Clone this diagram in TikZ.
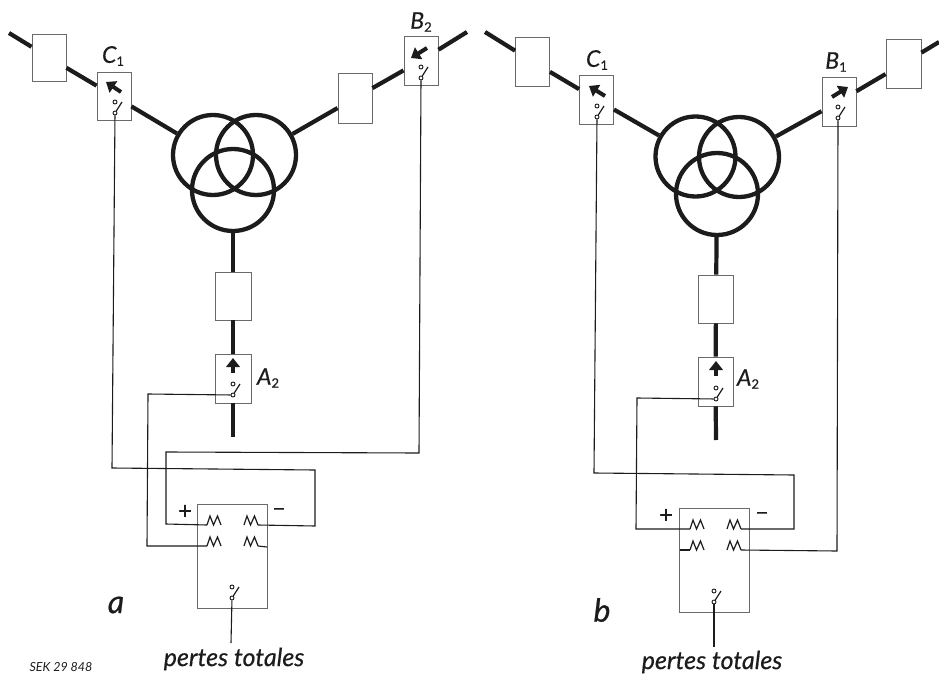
\documentclass[tikz,border=0pt]{standalone}
\usepackage{fontspec}
\setmainfont{Lato}
\usetikzlibrary{arrows.meta}
\definecolor{ink}{HTML}{1C1C1C}
\definecolor{edge}{HTML}{6A6A6A}
\tikzset{
  x=1pt,y=-1pt,
  bx/.style={draw=edge,line width=0.9pt,fill=white,inner sep=0pt,minimum width=#1},
  bx/.default=34pt,
  ring/.style={circle,draw=ink,line width=4.3pt,inner sep=0pt,minimum size=80pt},
  feed/.style={draw=ink,line width=4.2pt},
  wire/.style={draw=ink,line width=1.1pt},
  flowar/.style={draw=ink,line width=4pt,-{Triangle[length=9pt,width=13.5pt]}},
  contact/.style={circle,draw=ink,line width=0.9pt,fill=white,inner sep=0pt,minimum size=4pt},
  blade/.style={draw=ink,line width=1.2pt},
  lab/.style={font=\itshape\addfontfeature{FakeBold=0.4}\fontsize{23}{23}\selectfont,text=ink,inner sep=0pt},
  captext/.style={font=\itshape\addfontfeature{FakeBold=0.5}\fontsize{25}{25}\selectfont,text=ink,inner sep=0pt},
  panelmark/.style={font=\itshape\addfontfeature{FakeBold=0.7}\fontsize{32}{32}\selectfont,text=ink,inner sep=0pt},
  refmark/.style={font=\itshape\fontsize{12.5}{12.5}\selectfont,text=ink,inner sep=0pt},
  sgn/.style={font=\addfontfeature{FakeBold=0.3}\fontsize{24}{24}\selectfont,text=ink,inner sep=0pt}
}
\newcommand{\swtch}[3]{%
  \node[contact] (#1) at (#2,#3) {};
  \node[contact] (#1u) at (#2,#3-11) {};
  \coordinate (#1t) at (#2+7,#3-11);
  \draw[blade] (#1) -- (#1t);
}
\newcommand{\coilsym}[3]{%
  \coordinate (#1l) at (#2,#3);
  \coordinate (#1r) at (#2+14,#3);
  \draw[blade,line join=miter] (#1l) -- (#2+3,#3-9) -- (#2+6.5,#3) -- (#2+10.5,#3-9) -- (#1r);
}
\newcommand{\flowsym}[5]{%
  \coordinate (#1s) at (#2,#3);
  \coordinate (#1e) at (#4,#5);
  \draw[flowar] (#1s) -- (#1e);
}
\newcommand{\lbl}[2]{#1{\upshape\raisebox{-3pt}{\fontsize{13}{13}\selectfont #2}}}
\begin{document}
\begin{tikzpicture}
\useasboundingbox (0,0) rectangle (939,674);
% ---------- panel a
\node[bx,minimum height=47pt] (aA) at (49,57.5) {};
\node[bx,minimum height=48pt] (aC) at (114,96) {};
\node[bx,minimum height=49pt] (aB) at (421,60.5) {};
\node[bx,minimum height=50pt] (aD) at (355,98) {};
\node[bx=36pt,minimum height=48pt] (aM) at (233,296) {};
\node[bx=36pt,minimum height=49pt] (aQ) at (233,378.5) {};
\node[bx=70pt,minimum height=104pt] (aW) at (232,556) {};
\node[ring] (aL) at (213,155) {};
\node[ring] (aR) at (256,155) {};
\node[ring,minimum size=82pt] (aU) at (233,190) {};
\coordinate (aE1) at (9,33);
\coordinate (aE2) at (467,32);
\coordinate (aE3) at (233,437);
\draw[feed] (aE1) -- (aA);
\draw[feed] (aA) -- (aC);
\draw[feed] (aC) -- (aL);
\draw[feed] (aE2) -- (aB);
\draw[feed] (aB) -- (aD);
\draw[feed] (aD) -- (aR);
\draw[feed] (aU) -- (aM);
\draw[feed] (aM) -- (aQ);
\draw[feed] (aQ) -- (aE3);
\flowsym{aFc}{121}{92}{106}{82}
\flowsym{aFb}{427}{48}{411}{58}
\flowsym{aFq}{233}{373}{233}{358}
\swtch{aSc}{115}{113}
\swtch{aSb}{421}{78}
\swtch{aSq}{233}{395}
\swtch{aSw}{232}{598}
\coilsym{aKa}{207}{525}
\coilsym{aKb}{244}{525}
\coilsym{aKc}{207}{546}
\coilsym{aKd}{244}{546}
\coordinate (aP1) at (112,468);
\coordinate (aP2) at (315,470);
\coordinate (aP3) at (315,526);
\coordinate (aP4) at (419,453);
\coordinate (aP5) at (166,452);
\coordinate (aP6) at (166,524);
\coordinate (aP7) at (148,394);
\coordinate (aP8) at (147,546);
\coordinate (aP9) at (267,547);
\coordinate (aP10) at (231,643);
\draw[wire] (aSc) -- (aP1) -- (aP2) -- (aP3) -- (aKbr);
\draw[wire] (aSb) -- (aP4) -- (aP5) -- (aP6) -- (aKal);
\draw[wire] (aSq) -- (aP7) -- (aP8) -- (aKcl);
\draw[wire] (aKdr) -- (aP9);
\draw[wire] (aSw) -- (aP10);
\node[sgn] (aPl) at (185,512) {+};
\node[sgn] (aMi) at (279,512) {\textendash};
\node[lab] (aLc) at (113,56) {\lbl{C}{1}};
\node[lab] (aLb) at (421,22) {\lbl{B}{2}};
\node[lab] (aLq) at (268,378) {\lbl{A}{2}};
\node[panelmark] (aT) at (116,605) {a};
\node[captext] (aTx) at (234,659) {pertes totales};
\node[refmark] (aRef) at (61,667) {SEK 29 848};
% ---------- panel b
\node[bx,minimum height=49pt] (bA) at (532.5,61.5) {};
\node[bx,minimum height=49pt] (bC) at (596.5,99.5) {};
\node[bx,minimum height=49pt] (bB) at (839,101.5) {};
\node[bx=35pt,minimum height=49pt] (bD) at (903.5,63.5) {};
\node[bx=35pt,minimum height=48pt] (bM) at (716,299) {};
\node[bx=35pt,minimum height=49pt] (bQ) at (715.5,381.5) {};
\node[bx=70pt,minimum height=104pt] (bW) at (714,560) {};
\node[ring] (bL) at (695.5,156.5) {};
\node[ring] (bR) at (739,157) {};
\node[ring,minimum size=82pt] (bU) at (717,194) {};
\coordinate (bE1) at (485,32);
\coordinate (bE2) at (939,42);
\coordinate (bE3) at (716,440);
\draw[feed] (bE1) -- (bA);
\draw[feed] (bA) -- (bC);
\draw[feed] (bC) -- (bL);
\draw[feed] (bE2) -- (bD);
\draw[feed] (bD) -- (bB);
\draw[feed] (bB) -- (bR);
\draw[feed] (bU) -- (bM);
\draw[feed] (bM) -- (bQ);
\draw[feed] (bQ) -- (bE3);
\flowsym{bFc}{605}{96}{589}{86}
\flowsym{bFb}{832}{97}{848}{87}
\flowsym{bFq}{716}{376}{716}{361}
\swtch{bSc}{597}{117}
\swtch{bSb}{838}{118}
\swtch{bSq}{716}{399}
\swtch{bSw}{714}{602}
\coilsym{bKa}{690}{529}
\coilsym{bKb}{727}{529}
\coilsym{bKc}{690}{550}
\coilsym{bKd}{727}{550}
\coordinate (bP1) at (594,473);
\coordinate (bP2) at (794,475);
\coordinate (bP3) at (794,529);
\coordinate (bP4) at (837,551);
\coordinate (bP5) at (637,398);
\coordinate (bP6) at (636,529);
\coordinate (bP7) at (680,550);
\coordinate (bP10) at (714,647);
\draw[wire] (bSc) -- (bP1) -- (bP2) -- (bP3) -- (bKbr);
\draw[wire] (bSb) -- (bP4) -- (bKdr);
\draw[wire] (bSq) -- (bP5) -- (bP6) -- (bKal);
\draw[wire] (bP7) -- (bKcl);
\draw[wire] (bSw) -- (bP10);
\node[sgn] (bPl) at (666,516) {+};
\node[sgn] (bMi) at (762,516) {\textendash};
\node[lab] (bLc) at (597,60) {\lbl{C}{1}};
\node[lab] (bLb) at (836,62) {\lbl{B}{1}};
\node[lab] (bLq) at (748,379) {\lbl{A}{2}};
\node[panelmark] (bT) at (602,610) {b};
\node[captext] (bTx) at (712,662) {pertes totales};
\end{tikzpicture}
\end{document}
